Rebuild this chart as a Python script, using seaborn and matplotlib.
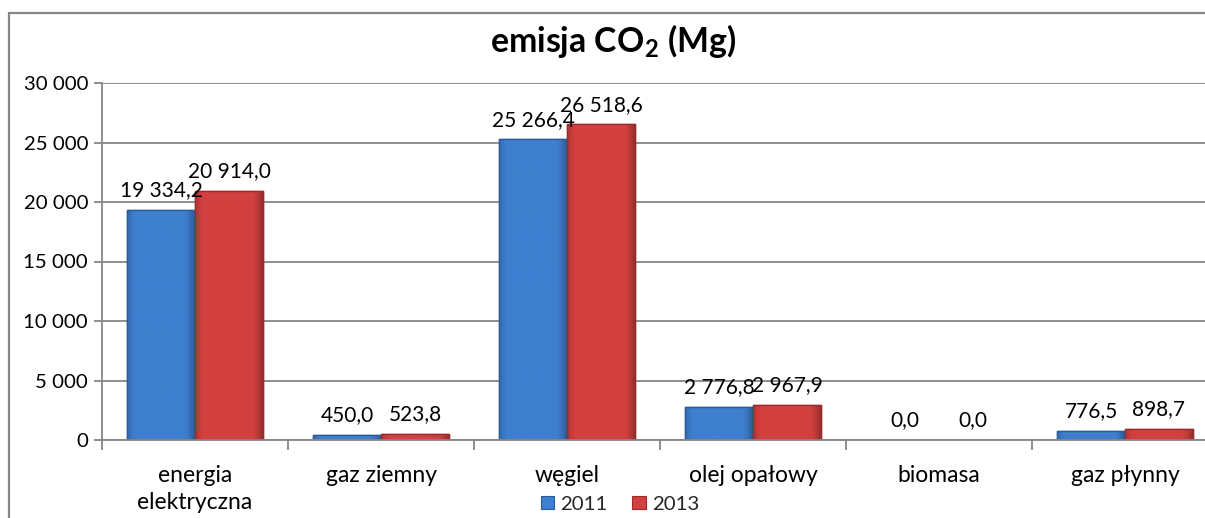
import matplotlib
matplotlib.use("Agg")
import matplotlib.pyplot as plt
import seaborn as sns
import pandas as pd
import numpy as np
from matplotlib.patches import Rectangle
from matplotlib.lines import Line2D
from matplotlib.colors import to_rgb
from matplotlib.ticker import FixedLocator, FuncFormatter

categories = ["energia\nelektryczna", "gaz ziemny", "węgiel", "olej opałowy", "biomasa", "gaz płynny"]
values_2011 = [19334.2, 450.0, 25266.4, 2776.8, 0.0, 776.5]
values_2013 = [20914.0, 523.8, 26518.6, 2967.9, 0.0, 898.7]
series = ["2011", "2013"]
yticks = [0, 5000, 10000, 15000, 20000, 25000, 30000]

df = pd.DataFrame({
    "kategoria": categories * 2,
    "rok": [series[0]] * len(categories) + [series[1]] * len(categories),
    "wartosc": values_2011 + values_2013,
})

sns.set_theme(style="white")
plt.rcParams["font.family"] = ["Lato", "DejaVu Sans"]
plt.rcParams["mathtext.fontset"] = "custom"
plt.rcParams["mathtext.bf"] = "Lato:bold"
plt.rcParams["mathtext.rm"] = "Lato"

W, H = 1205, 518
fig = plt.figure(figsize=(W / 100, H / 100), dpi=100)
ax = fig.add_axes([102 / W, 1 - 440 / H, 1116 / W, 357 / H])

palette = {"2011": "#3E7FCF", "2013": "#D2403F"}
edges = {"2011": "#2A5C9C", "2013": "#9A2C2C"}
sns.barplot(data=df, x="kategoria", y="wartosc", hue="rok", palette=palette,
            width=0.73, ax=ax, legend=False, saturation=1)

n = len(categories)
ax.set_ylim(0, 30000)
ax.set_xlim(-0.5, n - 0.5)

# subtle bevel-like shading: darker toward the side edges, clipped to each bar
for i, p in enumerate(ax.patches[:2 * n]):
    key = series[0] if i < n else series[1]
    p.set_edgecolor(edges[key])
    p.set_linewidth(1.0)
    h = p.get_height()
    if h <= 0:
        continue
    base = np.array(to_rgb(palette[key]))
    t = np.linspace(0, 1, 64)
    shade = 1.0 - 0.28 * (np.clip((t - 0.85) / 0.15, 0, 1) ** 1.5) - 0.15 * (np.clip((0.1 - t) / 0.1, 0, 1))
    grad = np.clip(base[None, None, :] * shade[None, :, None], 0, 1)
    x0 = p.get_x()
    im = ax.imshow(grad, extent=[x0, x0 + p.get_width(), 0, h], aspect="auto",
                   zorder=p.get_zorder() + 0.01, interpolation="bilinear")
    im.set_clip_path(p)
    edge_copy = Rectangle((x0, 0), p.get_width(), h, fill=False, edgecolor=edges[key],
                          linewidth=1.0, zorder=p.get_zorder() + 0.02)
    ax.add_patch(edge_copy)

ax.set_ylim(0, 30000)
ax.set_xlim(-0.5, n - 0.5)
ax.yaxis.set_major_locator(FixedLocator(yticks))
ax.yaxis.set_major_formatter(FuncFormatter(lambda v, _: f"{int(v):,}".replace(",", " ")))
ax.grid(axis="y", color="#868686", linewidth=1.3)
ax.set_axisbelow(True)
ax.set_xlabel("")
ax.set_ylabel("")
for s in ["top", "right"]:
    ax.spines[s].set_visible(False)
for s in ["left", "bottom"]:
    ax.spines[s].set_color("#868686")
    ax.spines[s].set_linewidth(1.3)

ax.tick_params(axis="y", which="major", length=6, width=1.3, color="#868686",
               labelsize=14.7, labelcolor="black", pad=4, left=True)
ax.set_xticks(np.arange(n))
ax.set_xticklabels(categories, fontsize=16.5, color="black", linespacing=1.35)
ax.tick_params(axis="x", which="major", length=0, pad=18)
ax.set_xticks(np.arange(n + 1) - 0.5, minor=True)
ax.tick_params(axis="x", which="minor", length=7, width=1.3, color="#868686", bottom=True)

def fmt(v):
    s = f"{v:,.1f}"
    return s.replace(",", " ").replace(".", ",")

for cont, vals in zip(ax.containers, [values_2011, values_2013]):
    for bar, v in zip(cont, vals):
        ax.annotate(fmt(v), (bar.get_x() + bar.get_width() / 2, bar.get_height()),
                    xytext=(0, 7), textcoords="offset points", ha="center", va="bottom",
                    fontsize=15, color="black", zorder=5)

fig.text(613 / W, 1 - 41 / H, r"emisja CO$_{\mathbf{2}}$ (Mg)", ha="center", va="center",
         fontsize=24.4, fontweight="bold", color="black")

handles = [Rectangle((0, 0), 1, 1, facecolor=palette[s], edgecolor=edges[s], linewidth=0.8) for s in series]
fig.legend(handles, series, loc="center", bbox_to_anchor=(620 / W, 1 - 504 / H), ncol=2,
           frameon=False, fontsize=14.7, handlelength=0.65, handleheight=0.65,
           handletextpad=0.3, columnspacing=1.2, borderpad=0)

fig.add_artist(Line2D([9 / W, 9 / W], [0, 1 - 13 / H], transform=fig.transFigure,
                      color="#868686", linewidth=1.6))
fig.add_artist(Line2D([9 / W, 1.0], [1 - 13 / H, 1 - 13 / H], transform=fig.transFigure,
                      color="#868686", linewidth=1.6))

fig.savefig("out.png", dpi=100)
